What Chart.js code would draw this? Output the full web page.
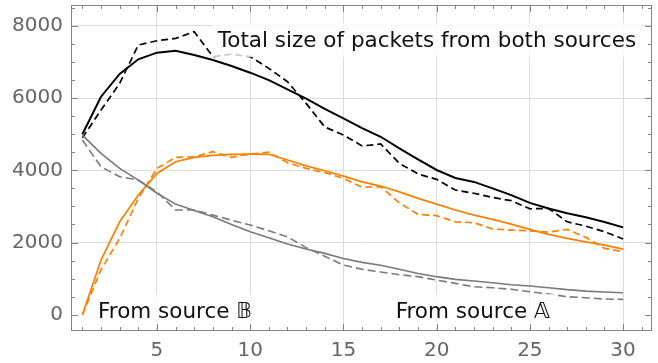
<!DOCTYPE html>
<html>
<head>
<meta charset="utf-8">
<script src="https://cdn.jsdelivr.net/npm/chart.js@4.4.1/dist/chart.umd.min.js"></script>
<style>
	html, body { margin: 0; padding: 0; background: #fff; }
	#wrap { width: 658px; height: 363px; }
</style>
</head>
<body>
<div id="wrap"><canvas id="packets"></canvas></div>
<script>
	var steps = [1, 2, 3, 4, 5, 6, 7, 8, 9, 10, 11, 12, 13, 14, 15, 16, 17, 18, 19, 20, 21, 22, 23, 24, 25, 26, 27, 28, 29, 30];

	// total size, both sources
	var totalModel    = [5000, 6040, 6670, 7075, 7260, 7310, 7195, 7055, 6890, 6705, 6500, 6245, 5985, 5700, 5440, 5170, 4930, 4610, 4305, 4010, 3790, 3680, 3500, 3315, 3100, 2945, 2810, 2700, 2570, 2420];
	var totalMeasured = [4900, 5670, 6410, 7470, 7590, 7655, 7840, 7150, 7220, 7150, 6825, 6455, 5855, 5200, 4980, 4675, 4730, 4195, 3900, 3750, 3455, 3365, 3250, 3160, 2935, 2945, 2575, 2455, 2300, 2100];

	// source B
	var sourceBModel    = [0, 1515, 2575, 3315, 3915, 4240, 4360, 4415, 4445, 4450, 4445, 4285, 4125, 3990, 3840, 3680, 3565, 3405, 3225, 3065, 2900, 2760, 2640, 2510, 2365, 2225, 2115, 2020, 1930, 1820];
	var sourceBMeasured = [0, 1250, 2115, 3225, 4055, 4360, 4375, 4515, 4360, 4450, 4505, 4210, 4055, 3935, 3780, 3530, 3545, 3100, 2780, 2745, 2575, 2550, 2375, 2345, 2325, 2290, 2365, 2145, 1840, 1745];

	// source A
	var sourceAModel    = [4975, 4470, 4055, 3730, 3365, 3065, 2885, 2715, 2500, 2300, 2130, 1960, 1820, 1700, 1560, 1450, 1370, 1260, 1145, 1055, 980, 935, 885, 830, 795, 750, 695, 655, 630, 610];
	var sourceAMeasured = [4840, 4100, 3825, 3730, 3405, 2900, 2900, 2760, 2620, 2485, 2325, 2160, 1860, 1620, 1375, 1260, 1185, 1110, 1055, 960, 870, 775, 750, 705, 635, 575, 500, 470, 435, 425];

	var xTicks = [5, 10, 15, 20, 25, 30];
	var yTicks = [0, 2000, 4000, 6000, 8000];

	var labelFont = '21.5px "DejaVu Sans"';

	function points(values) {
		return steps.map(function (s, i) { return { x: s, y: values[i] }; });
	}

	function series(label, values, color, width, dash) {
		return {
			label: label,
			data: points(values),
			borderColor: color,
			borderWidth: width,
			borderDash: dash,
			pointRadius: 0,
			fill: false,
			tension: 0
		};
	}

	// no automatic label padding, the frame is placed by layout.padding
	function noPad(scale) {
		scale.paddingTop = 0;
		scale.paddingBottom = 0;
		scale.paddingLeft = 0;
		scale.paddingRight = 0;
	}

	// frame with inward ticks on all four sides
	var frameTicks = {
		id: 'frameTicks',
		afterDraw: function (chart) {
			var ctx = chart.ctx, a = chart.chartArea;
			var xs = chart.scales.x, ys = chart.scales.y;
			ctx.save();
			ctx.strokeStyle = '#858585';
			ctx.lineWidth = 1;
			ctx.beginPath();
			for (var v = 1; v <= 31; v++) {
				var len = v % 5 === 0 ? 7 : 4;
				var px = Math.round(xs.getPixelForValue(v)) + 0.5;
				ctx.moveTo(px, a.bottom); ctx.lineTo(px, a.bottom - len);
				ctx.moveTo(px, a.top); ctx.lineTo(px, a.top + len);
			}
			for (var w = 0; w <= 8500; w += 500) {
				var l2 = w % 2000 === 0 ? 7 : 4;
				var py = Math.round(ys.getPixelForValue(w)) + 0.5;
				ctx.moveTo(a.left, py); ctx.lineTo(a.left + l2, py);
				ctx.moveTo(a.right, py); ctx.lineTo(a.right - l2, py);
			}
			ctx.stroke();
			ctx.strokeRect(a.left + 0.5, a.top + 0.5, a.right - a.left - 1, a.bottom - a.top - 1);
			ctx.restore();
		}
	};

	// text labels on a translucent white box
	var curveLabels = {
		id: 'curveLabels',
		afterDatasetsDraw: function (chart) {
			var ctx = chart.ctx;
			var xs = chart.scales.x, ys = chart.scales.y;
			var items = [
				{ text: 'Total size of packets from both sources', x: 19.48, y: 7610 },
				{ text: 'From source \u{1D539}', x: 5.97, y: 100 },
				{ text: 'From source \u{1D538}', x: 21.94, y: 100 }
			];
			ctx.save();
			ctx.font = labelFont;
			ctx.textAlign = 'center';
			ctx.textBaseline = 'middle';
			items.forEach(function (it) {
				var cx = xs.getPixelForValue(it.x), cy = ys.getPixelForValue(it.y);
				var w = ctx.measureText(it.text).width + 10;
				ctx.fillStyle = 'rgba(255,255,255,0.8)';
				ctx.fillRect(cx - w / 2, cy - 17, w, 34);
				ctx.fillStyle = '#111';
				ctx.fillText(it.text, cx, cy + 1);
			});
			ctx.restore();
		}
	};

	var ctx = document.getElementById('packets');
	var myChart = new Chart(ctx, {
		type: 'line',
		data: {
			datasets: [
				series('Source A', sourceAModel, '#7a7a7a', 1.6, []),
				series('Source A measured', sourceAMeasured, '#7a7a7a', 1.6, [8, 4]),
				series('Source B', sourceBModel, '#ff8000', 1.7, []),
				series('Source B measured', sourceBMeasured, '#ff8000', 1.7, [7, 4]),
				series('Total', totalModel, '#000000', 2, []),
				series('Total measured', totalMeasured, '#000000', 1.7, [7, 4])
			]
		},
		options: {
			responsive: true,
			maintainAspectRatio: false,
			animation: false,
			devicePixelRatio: 1,
			layout: {
				padding: { top: 5, right: 6, left: 0, bottom: 0 }
			},
			scales: {
				x: {
					type: 'linear',
					min: 0.39,
					max: 31.55,
					afterBuildTicks: function (scale) {
						scale.ticks = xTicks.map(function (v) { return { value: v }; });
					},
					afterFit: function (scale) { scale.height = 32; noPad(scale); },
					grid: { color: '#dcdcdc', drawTicks: false },
					border: { display: false },
					ticks: {
						color: '#666',
						font: { family: 'DejaVu Sans', size: 20 },
						padding: 8,
						maxRotation: 0,
						callback: function (v) { return String(v); }
					}
				},
				y: {
					type: 'linear',
					min: -450,
					max: 8580,
					afterBuildTicks: function (scale) {
						scale.ticks = yTicks.map(function (v) { return { value: v }; });
					},
					afterFit: function (scale) { scale.width = 71; noPad(scale); },
					grid: {
						drawTicks: false,
						color: function (c) { return c.tick && c.tick.value === 0 ? 'rgba(0,0,0,0)' : '#dcdcdc'; }
					},
					border: { display: false },
					ticks: {
						color: '#666',
						font: { family: 'DejaVu Sans', size: 20 },
						padding: 8,
						callback: function (v) { return String(v); }
					}
				}
			},
			plugins: {
				legend: { display: false },
				tooltip: { enabled: false }
			}
		},
		plugins: [curveLabels, frameTicks]
	});
</script>
</body>
</html>
